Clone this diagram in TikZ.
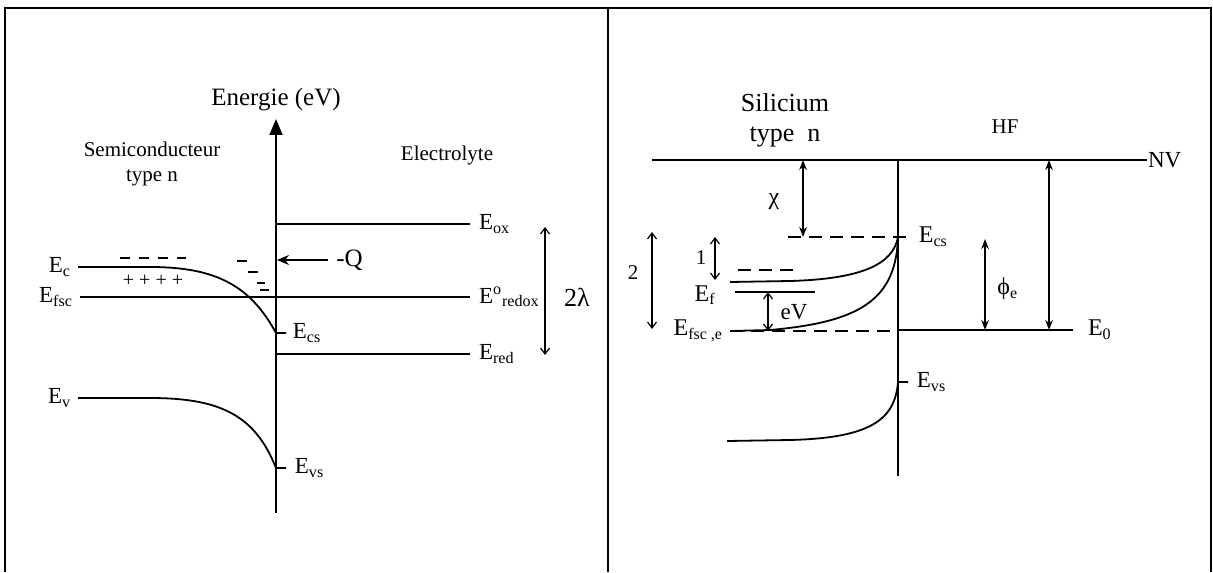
\documentclass[tikz,border=0pt]{standalone}
\usepackage{fontspec}
\setmainfont{Liberation Serif}
\usetikzlibrary{arrows.meta,positioning}
\newcommand\En[1]{E\textsubscript{#1}}

\begin{document}
\begin{tikzpicture}[x=0.5pt,y=-0.5pt,>=Stealth,every node/.style={font=\fontsize{11.5}{13}\selectfont,inner sep=1pt},
lvl/.style={line width=1pt},band/.style={line width=0.9pt},
dashlvl/.style={line width=0.9pt,dash pattern=on 6.5pt off 4pt},
dim/.style={line width=0.8pt,{Stealth[length=5pt,width=3.8pt]}-{Stealth[length=5pt,width=3.8pt]}},
fine/.style={line width=0.6pt,{Straight Barb[length=3pt,width=4.5pt]}-{Straight Barb[length=3pt,width=4.5pt]}},
rlab/.style={anchor=west,xshift=3pt},llab/.style={anchor=east,xshift=-2pt},
big/.style={font=\fontsize{12.5}{15}\selectfont},small/.style={font=\fontsize{10.5}{12.5}\selectfont}]
\useasboundingbox (0,0) rectangle (1213,572);
\draw[line width=1.2pt] (5,572)--(5,8)--(1211,8)--(1211,572) (608,8)--(608,572);
\coordinate (a0) at (276,513);\coordinate (a1) at (276,119);
\draw[line width=1pt,-{Triangle[length=8pt,width=6.5pt]}] (a0)--(a1);
\node[big] (en) at (276,100) {Energie (eV)};
\node[small,align=center] (sc) at (152,164) {Semiconducteur\\type n};
\node[small] (el) at (447,155) {Electrolyte};
\draw[lvl] (276,224)--(470,224) node[rlab] (ox) {\En{ox}};
\draw[lvl] (80,297) node[llab] (fsc) {\En{fsc}}--(470,297) node[rlab] (rdx) {E\textsuperscript{o}\textsubscript{redox}};
\draw[lvl] (276,354)--(470,354) node[rlab] (red) {\En{red}};
\draw[band] (78,267) node[llab] (ec) {\En{c}}--(150,267) .. controls (215,267) and (250,285) .. (276,333)--(286,333) node[rlab,xshift=-1pt] (ecs) {\En{cs}};
\draw[band] (78,398) node[llab] (ev) {\En{v}}--(150,398) .. controls (220,398) and (255,415) .. (276,468)--(286,468) node[rlab] (evs) {\En{vs}};
\draw[line width=1pt,dash pattern=on 5pt off 4.5pt] (120,258)--(186,258);
\node[font=\fontsize{10}{12}\selectfont] (pl) at (153,281) {+ + + +};
\foreach \x/\y/\l in {237/261/10,248/272/10,257/283/8,260/290/9}
  \draw[line width=1pt] (\x,\y)--++(\l,0);
\coordinate (q0) at (328,260);\coordinate (qa) at (277,260);
\node[big,anchor=west] (q) at (334,260) {-Q};
\draw[line width=0.9pt,-{Stealth[length=6pt,width=5pt]}] (q0)--(qa);
\coordinate (l0) at (545,227);\coordinate (l1) at (545,355);
\draw[fine] (l0)--(l1);
\node[font=\fontsize{13}{15}\selectfont] (lam) at (577,297) {2λ};
\node[font=\fontsize{13}{15}\selectfont,align=center] (si) at (785,120) {Silicium\\type\ \ n};
\node[small] (hf) at (1005,127) {HF};
\draw[lvl] (652,160)--(1147,160) node[anchor=west,inner sep=0pt] (nv) {NV};
\draw[lvl] (898,160)--(898,476);
\draw[dashlvl] (788,237)--(910,237) node[rlab,font=\fontsize{12}{14}\selectfont] (cs) {\En{cs}};
\draw[lvl] (898,330)--(1073,330) node[rlab,xshift=3pt,font=\fontsize{12}{14}\selectfont] (e0) {\En{0}};
\draw[dashlvl] (730,331) node[llab,font=\fontsize{12}{14}\selectfont] (fse) {\En{fsc ,e}}--(898,331);
\draw[lvl] (735,292)--(815,292);
\node[anchor=east,font=\fontsize{12}{14}\selectfont] (ef) at (718,295) {\En{f}};
\draw[dashlvl] (738,270)--(795,270);
\draw[band] (730,282)--(790,281) .. controls (860,279) and (893,265) .. (898,237);
\draw[band] (730,331)--(770,330) .. controls (860,322) and (896,300) .. (898,237);
\draw[band] (727,441)--(790,440) .. controls (870,438) and (895,420) .. (898,382)--(908,382) node[rlab] (vs) {\En{vs}};
\coordinate (c0) at (803,160);\coordinate (c1) at (803,237);
\draw[dim] (c0)--(c1);
\node[font=\fontsize{12}{14}\selectfont] (chi) at (774,202) {χ};
\coordinate (p0) at (985,239);\coordinate (p1) at (985,330);
\draw[dim] (p0)--(p1);
\node[anchor=west,font=\fontsize{12}{14}\selectfont] (phi) at (995,289) {ϕ\textsubscript{e}};
\coordinate (w0) at (1049,160);\coordinate (w1) at (1049,330);
\draw[dim] (w0)--(w1);
\coordinate (u0) at (715,237);\coordinate (u1) at (715,280);
\draw[fine] (u0)--(u1);
\node[small] (n1) at (701,258) {1};
\coordinate (d0) at (652,232);\coordinate (d1) at (652,329);
\draw[fine] (d0)--(d1);
\node[small] (n2) at (633,273) {2};
\coordinate (v0) at (768,292);\coordinate (v1) at (768,331);
\draw[fine] (v0)--(v1);
\node (ev) at (794,312) {eV};
\end{tikzpicture}
\end{document}
